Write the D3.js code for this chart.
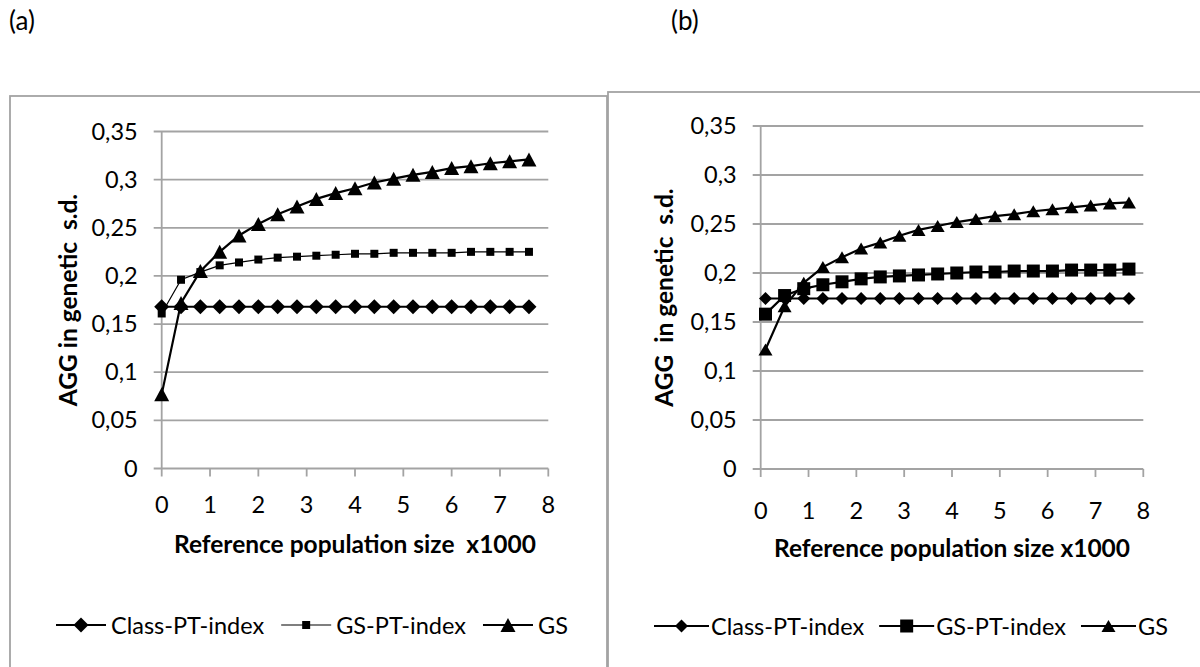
<!DOCTYPE html>
<html lang="en">
<head>
<meta charset="UTF-8">
<title>AGG in genetic s.d.</title>
<script src="https://cdn.jsdelivr.net/npm/d3@7"></script>
<style>
  body { margin: 0; background: #fff; }
  text { font-family: Lato, "Open Sans", sans-serif; fill: #000; white-space: pre; }
</style>
</head>
<body>
<svg id="mainsvg" width="1200" height="667"></svg>
<script>
// data
const seriesNames = ["Class-PT-index", "GS-PT-index", "GS"];
const xTicks = [0, 1, 2, 3, 4, 5, 6, 7, 8];
const yTicks = [0, 0.05, 0.1, 0.15, 0.2, 0.25, 0.3, 0.35];
const yTickLabels = ["0", "0,05", "0,1", "0,15", "0,2", "0,25", "0,3", "0,35"];

// panel (a)
const sizeA = [0, 0.4, 0.8, 1.2, 1.6, 2.0, 2.4, 2.8, 3.2, 3.6, 4.0, 4.4, 4.8, 5.2, 5.6, 6.0, 6.4, 6.8, 7.2, 7.6];
const classA = [0.168, 0.168, 0.168, 0.168, 0.168, 0.168, 0.168, 0.168, 0.168, 0.168, 0.168, 0.168, 0.168, 0.168, 0.168, 0.168, 0.168, 0.168, 0.168, 0.168];
const gsptA = [0.161, 0.196, 0.204, 0.211, 0.214, 0.217, 0.219, 0.220, 0.221, 0.222, 0.223, 0.223, 0.224, 0.224, 0.224, 0.224, 0.225, 0.225, 0.225, 0.225];
const gsA = [0.077, 0.172, 0.205, 0.225, 0.242, 0.254, 0.264, 0.272, 0.280, 0.286, 0.291, 0.297, 0.301, 0.305, 0.308, 0.312, 0.314, 0.317, 0.319, 0.321];

// panel (b)
const sizeB = [0.1, 0.5, 0.9, 1.3, 1.7, 2.1, 2.5, 2.9, 3.3, 3.7, 4.1, 4.5, 4.9, 5.3, 5.7, 6.1, 6.5, 6.9, 7.3, 7.7];
const classB = [0.174, 0.174, 0.174, 0.174, 0.174, 0.174, 0.174, 0.174, 0.174, 0.174, 0.174, 0.174, 0.174, 0.174, 0.174, 0.174, 0.174, 0.174, 0.174, 0.174];
const gsptB = [0.158, 0.177, 0.184, 0.188, 0.191, 0.194, 0.196, 0.197, 0.198, 0.199, 0.200, 0.201, 0.201, 0.202, 0.202, 0.202, 0.203, 0.203, 0.203, 0.204];
const gsB = [0.122, 0.166, 0.190, 0.206, 0.216, 0.225, 0.231, 0.238, 0.244, 0.248, 0.252, 0.255, 0.258, 0.260, 0.263, 0.265, 0.267, 0.269, 0.271, 0.272];

const svg = d3.select("#mainsvg");
const grey = "#a3a3a3";

function marker(type, cx, cy, w, h) {
    const p = d3.path();
    if (type === "diamond") {
        p.moveTo(cx, cy - h / 2); p.lineTo(cx + w / 2, cy); p.lineTo(cx, cy + h / 2); p.lineTo(cx - w / 2, cy);
    } else if (type === "square") {
        p.rect(cx - w / 2, cy - h / 2, w, h);
    } else {
        p.moveTo(cx, cy - h / 2); p.lineTo(cx + w / 2, cy + h / 2); p.lineTo(cx - w / 2, cy + h / 2);
    }
    p.closePath();
    return p.toString();
}

const panels = [
    {
        label: "(a)", labelX: 9, frameX: 10, frameY: 96, frameW: 597,
        left: 161.7, right: 548.3, top: 131.5, bottom: 468.5,
        xLabelDy: 44, xTitleY: 553, yTitleX: 77,
        legendX: 56, legendY: 625, legLine: 50, legGap: 5, legItemGap: 17,
        yTitle: "AGG in genetic  s.d.", xTitle: "Reference population size  x1000",
        x: sizeA, series: [classA, gsptA, gsA],
        styles: [
            {type: "diamond", w: 15, h: 15, lw: 2.2},
            {type: "square", w: 8, h: 8, lw: 1.2},
            {type: "triangle", w: 15, h: 14, lw: 2.2}
        ]
    },
    {
        label: "(b)", labelX: 671, frameX: 608, frameY: 92, frameW: 610,
        left: 760.7, right: 1143.3, top: 126, bottom: 469,
        xLabelDy: 50, xTitleY: 557, yTitleX: 673,
        legendX: 654, legendY: 626, legLine: 55, legGap: 2, legItemGap: 15,
        yTitle: "AGG  in genetic  s.d.", xTitle: "Reference population size x1000",
        x: sizeB, series: [classB, gsptB, gsB],
        styles: [
            {type: "diamond", w: 13, h: 13, lw: 2.2},
            {type: "square", w: 13, h: 13, lw: 2.2},
            {type: "triangle", w: 14, h: 12, lw: 2.2}
        ]
    }
];

panels.forEach(pn => {
    const g = svg.append("g");
    const x = d3.scaleLinear().domain([0, 8]).range([pn.left, pn.right]);
    const y = d3.scaleLinear().domain([0, 0.35]).range([pn.bottom, pn.top]);

    svg.append("text").attr("x", pn.labelX).attr("y", 30).attr("font-size", 26).text(pn.label);

    g.append("rect")
        .attr("x", pn.frameX).attr("y", pn.frameY)
        .attr("width", pn.frameW).attr("height", 700)
        .attr("fill", "#fff").attr("stroke", grey).attr("stroke-width", 1.8);

    // horizontal gridlines (they also act as y ticks)
    g.selectAll(".grid").data(yTicks).join("line")
        .attr("x1", pn.left - 8).attr("x2", pn.right)
        .attr("y1", d => y(d)).attr("y2", d => y(d))
        .attr("stroke", grey).attr("stroke-width", 1.8);

    g.selectAll(".ylab").data(yTicks).join("text")
        .attr("x", pn.left - 24).attr("y", d => y(d) + 8)
        .attr("text-anchor", "end").attr("font-size", 23.5)
        .text((d, i) => yTickLabels[i]);

    // axes lines
    g.append("line").attr("x1", x(0)).attr("x2", x(0)).attr("y1", y(0.35)).attr("y2", y(0))
        .attr("stroke", grey).attr("stroke-width", 1.8);
    g.selectAll(".xt").data(xTicks).join("line")
        .attr("x1", d => x(d)).attr("x2", d => x(d))
        .attr("y1", y(0)).attr("y2", y(0) + 8)
        .attr("stroke", grey).attr("stroke-width", 1.8);
    g.selectAll(".xlab").data(xTicks).join("text")
        .attr("x", d => x(d)).attr("y", y(0) + pn.xLabelDy)
        .attr("text-anchor", "middle").attr("font-size", 23.5)
        .text(d => d);

    g.append("text")
        .attr("x", (pn.left + pn.right) / 2).attr("y", pn.xTitleY)
        .attr("text-anchor", "middle").attr("font-size", 24.5).attr("font-weight", "bold")
        .text(pn.xTitle);
    g.append("text")
        .attr("transform", `translate(${pn.yTitleX}, ${(pn.top + pn.bottom) / 2}) rotate(-90)`)
        .attr("text-anchor", "middle").attr("font-size", 24.5).attr("font-weight", "bold")
        .text(pn.yTitle);

    const line = d3.line().x(d => x(d[0])).y(d => y(d[1]));
    pn.series.forEach((vals, si) => {
        const st = pn.styles[si];
        const pts = pn.x.map((v, i) => [v, vals[i]]);
        g.append("path").attr("d", line(pts))
            .attr("fill", "none").attr("stroke", "#000").attr("stroke-width", st.lw);
        g.selectAll(".m" + si).data(pts).join("path")
            .attr("d", d => marker(st.type, x(d[0]), y(d[1]), st.w, st.h))
            .attr("fill", "#000");
    });

    // legend
    let lx = pn.legendX;
    pn.styles.forEach((st, si) => {
        g.append("line").attr("x1", lx).attr("x2", lx + pn.legLine)
            .attr("y1", pn.legendY).attr("y2", pn.legendY)
            .attr("stroke", "#000").attr("stroke-width", st.lw);
        g.append("path").attr("d", marker(st.type, lx + pn.legLine / 2, pn.legendY, st.w, st.h)).attr("fill", "#000");
        const t = g.append("text").attr("x", lx + pn.legLine + pn.legGap).attr("y", pn.legendY + 8.5)
            .attr("font-size", 23.5).text(seriesNames[si]);
        lx += pn.legLine + pn.legGap + t.node().getComputedTextLength() + pn.legItemGap;
    });
});
</script>
</body>
</html>
